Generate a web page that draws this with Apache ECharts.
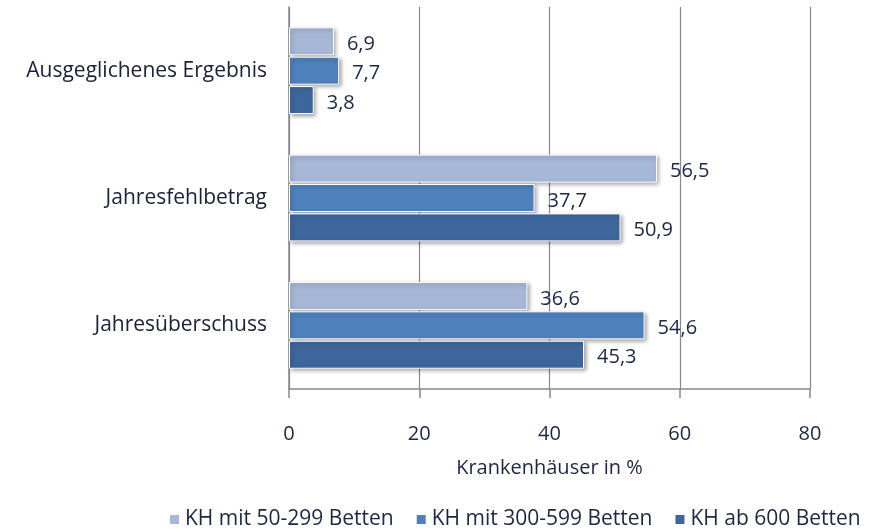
<!DOCTYPE html>
<html><head><meta charset="utf-8">
<script src="https://cdn.jsdelivr.net/npm/echarts@6/dist/echarts.min.js"></script>
<style>html,body{margin:0;padding:0;background:#fff}#c{width:881px;height:532px}</style>
</head><body><div id="c"></div>
<script>
const categories = ['Ausgeglichenes Ergebnis', 'Jahresfehlbetrag', 'Jahresüberschuss'];
const seriesNames = ['KH mit 50-299 Betten', 'KH mit 300-599 Betten', 'KH ab 600 Betten'];
const kh50 = [6.9, 56.5, 36.6];
const kh300 = [7.7, 37.7, 54.6];
const kh600 = [3.8, 50.9, 45.3];
const xTicks = [0, 20, 40, 60, 80];
const colors = ['#a7b7d8', '#4f81bd', '#3d679c'];
const textColor = '#1c2744';
const font = 'Open Sans';

const chart = echarts.init(document.getElementById('c'));
const mk = (name, data, i) => ({
  name, type: 'bar', data,
  barWidth: 28, barGap: '5%', barCategoryGap: '35%',
  itemStyle: { color: colors[i], borderColor: '#fff', borderWidth: 1,
    shadowColor: 'rgba(0,0,0,0.35)', shadowBlur: 4, shadowOffsetX: 2, shadowOffsetY: 2 },
  label: { show: true, position: 'right', distance: 13, offset: [0, 3], color: textColor,
    fontFamily: font, fontSize: 20,
    formatter: p => String(p.value).replace('.', ',') },
  z: 3
});
chart.setOption({
  animation: false,
  textStyle: { fontFamily: font },
  grid: { left: 289, right: 71, top: 7, bottom: 143, containLabel: false },
  legend: {
    bottom: -3, left: 163, itemWidth: 11, itemHeight: 11, itemGap: 21,
    icon: 'rect',
    textStyle: { fontFamily: font, fontSize: 21, color: textColor },
    data: seriesNames
  },
  xAxis: {
    type: 'value', min: 0, max: 80, interval: 20,
    name: 'Krankenhäuser in %', nameLocation: 'middle', nameGap: 69,
    nameTextStyle: { fontFamily: font, fontSize: 20, color: textColor },
    axisLine: { show: true, lineStyle: { color: '#888', width: 1.5 } },
    axisTick: { show: true, length: 9, lineStyle: { color: '#888', width: 1.5 } },
    axisLabel: { margin: 35, fontFamily: font, fontSize: 20, color: textColor,
      formatter: v => xTicks.includes(v) ? String(v) : '' },
    splitLine: { show: true, lineStyle: { color: '#888', width: 1.2 } }
  },
  yAxis: {
    type: 'category', data: categories, inverse: true,
    axisLine: { show: true, lineStyle: { color: '#888', width: 1.5 } },
    axisTick: { show: false },
    axisLabel: { margin: 22, padding: [6, 0, 0, 0], fontFamily: font, fontSize: 21, color: '#1a1f3a' }
  },
  series: [mk(seriesNames[0], kh50, 0), mk(seriesNames[1], kh300, 1), mk(seriesNames[2], kh600, 2)]
});
</script></body></html>
